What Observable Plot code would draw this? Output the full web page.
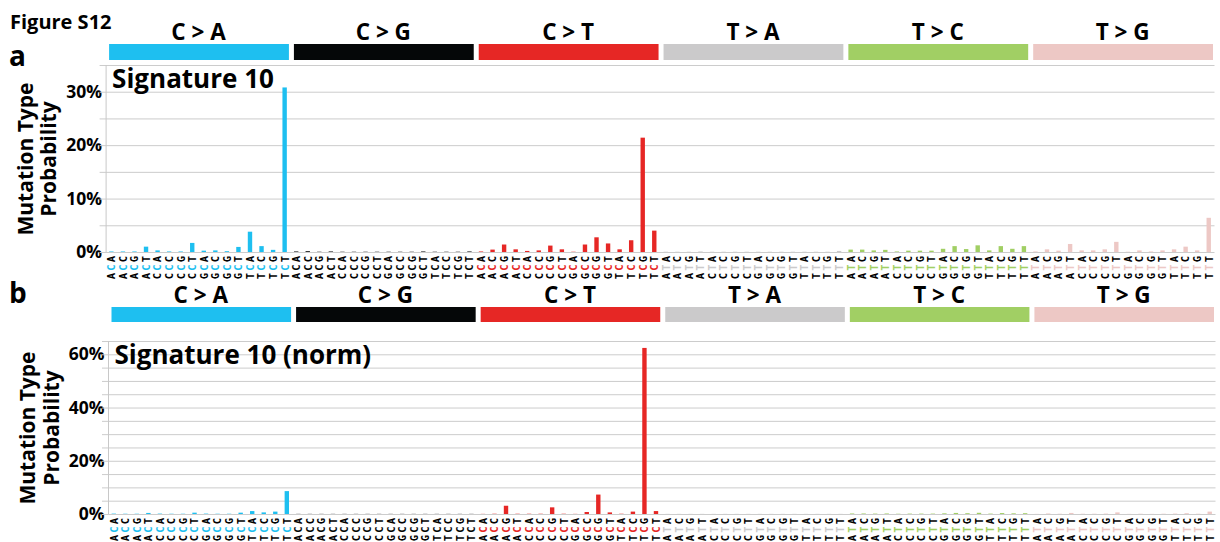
<!DOCTYPE html>
<html><head><meta charset="utf-8">
<script src="https://cdn.jsdelivr.net/npm/d3@7"></script>
<script src="https://cdn.jsdelivr.net/npm/@observablehq/plot@0.6"></script>
<style>
body{margin:0;background:#fff;}
#wrap{position:relative;width:1220px;height:542px;overflow:hidden;background:#fff;}
#stack svg{display:block;}
.lbl{position:absolute;line-height:1;color:#000;font-family:"Open Sans",sans-serif;font-weight:700;white-space:nowrap;}
</style></head><body>
<div id="wrap">
  <div id="stack"></div>
  <div class="lbl" style="left:10px;top:12px;font-size:20px">Figure S12</div>
  <div class="lbl" style="left:9px;top:41px;font-size:28px">a</div>
  <div class="lbl" style="left:9px;top:278px;font-size:28px">b</div>
</div>
<script>
// ---- data ----
const bases = ["A", "C", "G", "T"];
const mutationTypes = ["C>A", "C>G", "C>T", "T>A", "T>C", "T>G"];
const typeLabels = ["C > A", "C > G", "C > T", "T > A", "T > C", "T > G"];
const typeColors = ["#1ebff0", "#050708", "#e62725", "#cbcacb", "#a1cf64", "#edc8c5"];
const contextLabels = mutationTypes.flatMap(m => bases.flatMap(f => bases.map(t => f + m[0] + t)));

// Signature 10 (percent), order: C>A, C>G, C>T, T>A, T>C, T>G; 16 contexts each
const sig10_CA = [0.1, 0.1, 0.1, 1.0, 0.3, 0.1, 0.1, 1.7, 0.25, 0.3, 0.15, 0.95, 3.8, 1.1, 0.4, 30.8];
const sig10_CG = [0.1, 0.15, 0.05, 0.1, 0.05, 0.05, 0.05, 0.05, 0.05, 0.05, 0.05, 0.1, 0.05, 0.05, 0.05, 0.1];
const sig10_CT = [0.1, 0.45, 1.4, 0.5, 0.2, 0.3, 1.2, 0.5, 0.05, 1.4, 2.75, 1.6, 0.5, 2.2, 21.4, 4.0];
const sig10_TA = [0.05, 0.05, 0.05, 0.1, 0.05, 0.05, 0.05, 0.05, 0.05, 0.05, 0.05, 0.05, 0.05, 0.05, 0.05, 0.2];
const sig10_TC = [0.45, 0.45, 0.3, 0.4, 0.1, 0.25, 0.25, 0.25, 0.6, 1.1, 0.55, 1.25, 0.3, 1.1, 0.6, 1.1];
const sig10_TG = [0.1, 0.5, 0.25, 1.5, 0.3, 0.3, 0.5, 1.9, 0.05, 0.3, 0.1, 0.3, 0.5, 1.0, 0.3, 6.4];

// Signature 10 (norm) (percent)
const norm_CA = [0.15, 0.1, 0.1, 0.4, 0.15, 0.1, 0.1, 0.5, 0.15, 0.1, 0.1, 0.5, 1.1, 0.6, 0.9, 8.6];
const norm_CG = [0.05, 0.05, 0.05, 0.05, 0.05, 0.05, 0.05, 0.05, 0.05, 0.05, 0.05, 0.05, 0.05, 0.05, 0.05, 0.05];
const norm_CT = [0.05, 0.1, 3.1, 0.1, 0.1, 0.1, 2.5, 0.1, 0.05, 0.75, 7.3, 0.6, 0.1, 0.9, 62.4, 1.1];
const norm_TA = [0.05, 0.05, 0.05, 0.05, 0.05, 0.05, 0.05, 0.05, 0.05, 0.05, 0.05, 0.05, 0.05, 0.05, 0.05, 0.05];
const norm_TC = [0.2, 0.2, 0.15, 0.2, 0.1, 0.15, 0.15, 0.15, 0.25, 0.4, 0.3, 0.45, 0.15, 0.35, 0.25, 0.3];
const norm_TG = [0.05, 0.2, 0.1, 0.4, 0.1, 0.1, 0.15, 0.6, 0.05, 0.1, 0.05, 0.1, 0.15, 0.3, 0.1, 0.9];

const sig10 = [...sig10_CA, ...sig10_CG, ...sig10_CT, ...sig10_TA, ...sig10_TC, ...sig10_TG];
const sig10norm = [...norm_CA, ...norm_CG, ...norm_CT, ...norm_TA, ...norm_TC, ...norm_TG];

const FONT = "Open Sans";
const LETTER_FONT = "DejaVu Sans Mono";

function headerPlot({height, marginTop, marginBottom, marginLeft, marginRight}) {
  const groups = typeLabels.map((label, g) => ({g, label, color: typeColors[g]}));
  return Plot.plot({
    width: 1220, height, marginTop, marginBottom, marginLeft, marginRight,
    style: {fontFamily: FONT, fontWeight: 700, background: "transparent", overflow: "visible"},
    x: {domain: [0, 96], axis: null},
    y: {domain: [0, 1], axis: null},
    color: {type: "identity"},
    marks: [
      Plot.rect(groups, {x1: d => d.g * 16, x2: d => d.g * 16 + 16, y1: 0, y2: 1, fill: "color", insetLeft: 3.5, insetRight: 1.5}),
      Plot.text(groups, {x: d => d.g * 16 + 8, y: 1, text: "label", lineAnchor: "bottom", dy: -5, fontSize: 22.5, fill: "black"})
    ]
  });
}

function mainPlot({values, yMax, ticks, height, marginTop, marginBottom, marginLeft, marginRight, title}) {
  const data = values.map((v, i) => ({i, v: v / 100, g: Math.floor(i / 16), label: contextLabels[i]}));
  const grid = d3.range(0, Math.round(yMax / 0.05) + 1).map(k => k * 0.05);
  const letter = (k, dy, colored) => Plot.text(data, {
    x: d => d.i + 0.5, frameAnchor: "bottom", text: d => d.label[k],
    rotate: -90, textAnchor: "middle", lineAnchor: "middle", dy,
    fontSize: 10.5, fontWeight: 700, fontFamily: LETTER_FONT,
    fill: colored ? (d => typeColors[d.g]) : "black"
  });
  return Plot.plot({
    width: 1220, height, marginTop, marginBottom, marginLeft, marginRight,
    style: {fontFamily: FONT, fontSize: "17.5px", fontWeight: 700, background: "transparent", color: "#000", overflow: "visible"},
    x: {domain: [0, 96], axis: null},
    y: {domain: [0, yMax], ticks, tickFormat: d3.format(".0%"), tickSize: 0, tickPadding: 4, label: null},
    color: {type: "identity"},
    marks: [
      Plot.ruleY(grid, {stroke: "#cccccc", strokeWidth: 1, insetLeft: -6, strokeOpacity: 1}),
      Plot.ruleX([0], {stroke: "#c8c8c8", strokeOpacity: 1}),
      Plot.rectY(data, {x1: d => d.i + 0.31, x2: d => d.i + 0.69, y: "v", fill: d => typeColors[d.g]}),
      letter(0, 23.5, false),
      letter(1, 15, true),
      letter(2, 6.5, false),
      Plot.text([title], {frameAnchor: "top-left", textAnchor: "start", lineAnchor: "top", dx: 6, dy: 4, fontSize: 26, fill: "black"}),
      Plot.text(["Mutation Type\nProbability"], {frameAnchor: "left", rotate: -90, textAnchor: "middle", lineAnchor: "middle", dx: -69, fontSize: 21, lineHeight: 1.12, fill: "black"})
    ]
  });
}

const stack = document.getElementById("stack");
stack.append(
  headerPlot({height: 62, marginTop: 44, marginBottom: 2, marginLeft: 105.6, marginRight: 5.5}),
  mainPlot({values: sig10, yMax: 0.35, ticks: [0, 0.1, 0.2, 0.3], height: 228, marginTop: 3, marginBottom: 38, marginLeft: 105.6, marginRight: 5.5, title: "Signature 10"}),
  headerPlot({height: 34, marginTop: 17, marginBottom: 2, marginLeft: 108, marginRight: 4.5}),
  mainPlot({values: sig10norm, yMax: 0.65, ticks: [0, 0.2, 0.4, 0.6], height: 218, marginTop: 17, marginBottom: 28, marginLeft: 108, marginRight: 4.5, title: "Signature 10 (norm)"})
);
</script>
</body></html>
